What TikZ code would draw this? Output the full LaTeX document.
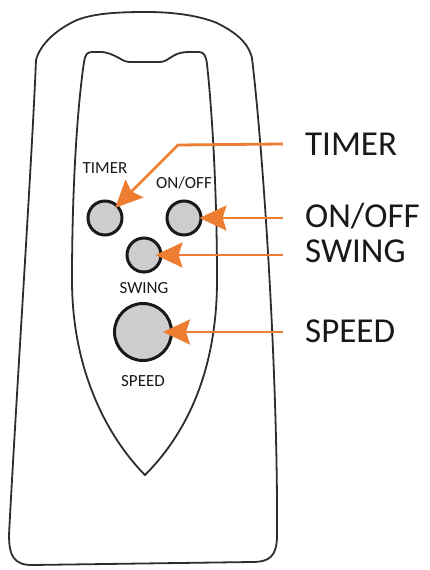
\documentclass[tikz,border=0pt]{standalone}
\usepackage{fontspec}
\setmainfont{Carlito}
\usepackage{xcolor}
\usepackage{tikz}
\usetikzlibrary{arrows.meta,positioning}
\definecolor{ink}{RGB}{45,45,45}
\definecolor{btngray}{RGB}{205,205,208}
\definecolor{accent}{RGB}{237,125,49}

\begin{document}
\begin{tikzpicture}[x=1pt, y=-1pt,
      shell/.style={draw=ink, line width=1.8pt, line join=round},
      btn/.style={circle, draw=black!90, fill=btngray, line width=3pt, minimum size=34pt, inner sep=0pt},
      lbl/.style={font=\fontsize{17}{20}\selectfont, inner sep=0pt, text=black!90},
      callout/.style={font=\fontsize{35}{40}\selectfont, inner sep=0pt, anchor=base west, text=black!90},
      arr/.style={-{Stealth[length=27pt, width=25pt, inset=4pt]}, line width=2.8pt, color=accent, shorten <=22pt}
    ]
      \useasboundingbox (0,0) rectangle (429,570);
      % outer casing
      \draw[shell] (9,535) .. controls (16,400) and (32,160) .. (36,60)
        .. controls (40,45) and (55,30) .. (77,20)
        .. controls (95,13) and (120,12) .. (147,12)
        .. controls (175,12) and (200,16) .. (217,23)
        .. controls (235,32) and (248,42) .. (252,58)
        .. controls (264,160) and (278,380) .. (277,535)
        .. controls (277,556) and (270,562) .. (252,562)
        -- (32,565)
        .. controls (14,565) and (9,556) .. cycle;
      % inner panel
      \draw[shell] (145,475) .. controls (115,445) and (72,380) .. (72,280)
        .. controls (72,190) and (77,110) .. (84,62)
        .. controls (85,55) and (87,52) .. (92,52)
        -- (100,52)
        .. controls (108,52) and (113,55) .. (119,58)
        .. controls (124,61) and (126,62) .. (131,62)
        -- (160,62)
        .. controls (165,62) and (168,59) .. (173,56)
        .. controls (178,53) and (183,52) .. (189,52)
        -- (199,52)
        .. controls (204,52) and (206,56) .. (207,64)
        .. controls (212,110) and (217,190) .. (217,280)
        .. controls (217,380) and (180,440) .. cycle;
      % buttons
      \node[btn] (bt) at (105,218) {};
      \node[btn] (bon) at (184,218) {};
      \node[btn] (bsw) at (144,255) {};
      \node[btn, minimum size=57pt] (bsp) at (143,332) {};
      \node[lbl, above=26pt of bt] (st) {TIMER};
      \node[lbl, above=10pt of bon] (son) {ON/OFF};
      \node[lbl, below=8.5pt of bsw] (ssw) {SWING};
      \node[lbl, below=13pt of bsp] (ssp) {SPEED};
      % callouts
      \node[callout] (lt) at (305,155) {TIMER};
      \node[callout] (lon) at (305,227) {ON/OFF};
      \node[callout] (lsw) at (305,262) {SWING};
      \node[callout] (lsp) at (305,342) {SPEED};
      \coordinate (tbend) at (178,145);
      \draw[arr, shorten >=-4pt] (lt.west) -- (tbend) -- (bt);
      \draw[arr, shorten >=-3pt] (lon.west |- bon) -- (bon);
      \draw[arr, shorten >=-7pt] (lsw.west |- bsw) -- (bsw);
      \draw[arr, shorten >=-10pt] (lsp.west |- bsp) -- (bsp);
\end{tikzpicture}
\end{document}
